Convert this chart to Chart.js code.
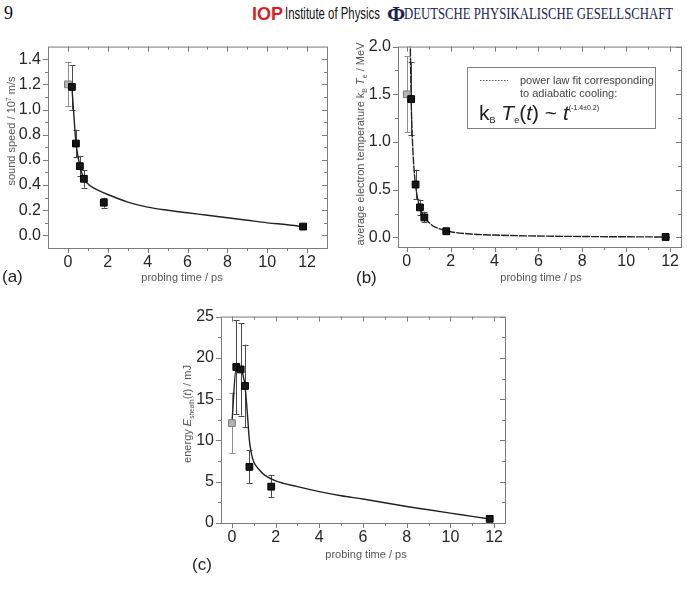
<!DOCTYPE html>
<html>
<head>
<meta charset="utf-8">
<script src="https://cdn.jsdelivr.net/npm/chart.js@4.4.1/dist/chart.umd.min.js"></script>
<style>
  html, body { margin: 0; padding: 0; background: #fff; }
  body { width: 687px; height: 589px; position: relative; overflow: hidden; font-family: "Liberation Sans", Arial, sans-serif; }
  canvas.panel { position: absolute; }
  .lbl { position: absolute; font-size: 17px; line-height: 20px; color: #222; }
  .hdr { position: absolute; white-space: nowrap; line-height: 1; transform-origin: 0 50%; }
</style>
</head>
<body>
<div class="hdr" style="left:4px;top:3px;font:18px 'Liberation Serif',serif;color:#111;">9</div>
<div class="hdr" data-w="31" style="left:252px;top:3px;font:bold 19px 'Liberation Sans',Arial;color:#d71f26;">IOP</div>
<div class="hdr" data-w="95" style="left:285px;top:4px;font:17px 'Liberation Sans',Arial;color:#111;">Institute of Physics</div>
<div class="hdr" style="left:387px;top:1px;font:bold 22px 'Liberation Serif',serif;color:#1b2452;">&Phi;</div>
<div class="hdr" data-w="269" style="left:404px;top:5px;font:16px 'Liberation Serif',serif;color:#1b2452;">DEUTSCHE PHYSIKALISCHE GESELLSCHAFT</div>

<canvas id="chartA" class="panel" width="340" height="270" style="left:0px;top:30px;width:340px;height:270px;"></canvas>
<canvas id="chartB" class="panel" width="347" height="270" style="left:340px;top:30px;width:347px;height:270px;"></canvas>
<canvas id="chartC" class="panel" width="370" height="289" style="left:160px;top:300px;width:370px;height:289px;"></canvas>

<div class="lbl" style="left:2px;top:267px;">(a)</div>
<div class="lbl" style="left:356px;top:268px;">(b)</div>
<div class="lbl" style="left:192px;top:555px;">(c)</div>

<script>
// ---------- data: (a) sound speed ----------
const timeA = [0.2, 0.4, 0.6, 0.8, 1.8, 11.8];
const speedA = [1.18, 0.73, 0.55, 0.45, 0.26, 0.07];
const speedLoA = [1.00, 0.62, 0.47, 0.38, 0.22, 0.06];
const speedHiA = [1.35, 0.84, 0.63, 0.52, 0.30, 0.08];
const refTimeA = [0];
const refSpeedA = [1.20];
const refLoA = [1.03];
const refHiA = [1.38];
const fitTimeA = [0.2, 0.3, 0.4, 0.5, 0.6, 0.7, 0.8, 1.0, 1.2, 1.5, 2, 3, 4, 5, 6, 7, 8, 9, 10, 11, 11.8];
const fitSpeedA = [1.18, 0.95, 0.74, 0.63, 0.555, 0.495, 0.45, 0.41, 0.385, 0.36, 0.325, 0.265, 0.225, 0.2, 0.18, 0.16, 0.14, 0.12, 0.10, 0.085, 0.07];
const yTicksA = [0, 0.2, 0.4, 0.6, 0.8, 1.0, 1.2, 1.4];
const yMinorA = [0.1, 0.3, 0.5, 0.7, 0.9, 1.1, 1.3];

// ---------- data: (b) electron temperature ----------
const timeB = [0.2, 0.4, 0.6, 0.8, 1.8, 11.8];
const tempB = [1.45, 0.555, 0.315, 0.21, 0.065, 0.005];
const tempLoB = [1.07, 0.405, 0.235, 0.16, 0.055, 0.0];
const tempHiB = [1.84, 0.71, 0.395, 0.27, 0.075, 0.01];
const refTimeB = [0];
const refTempB = [1.50];
const refLoB = [1.10];
const refHiB = [1.90];
const fitTimeB = [0.15, 0.2, 0.25, 0.3, 0.35, 0.4, 0.5, 0.6, 0.7, 0.8, 1.0, 1.2, 1.5, 2, 3, 4, 6, 8, 10, 11.8];
const fitTempB = [2.17, 1.45, 1.06, 0.82, 0.66, 0.55, 0.40, 0.31, 0.25, 0.21, 0.16, 0.12, 0.09, 0.06, 0.035, 0.025, 0.015, 0.01, 0.007, 0.005];
const yTicksB = [0, 0.5, 1.0, 1.5, 2.0];
const yMinorB = [0.25, 0.75, 1.25, 1.75];

// ---------- data: (c) sheath energy ----------
const timeC = [0.2, 0.4, 0.6, 0.8, 1.8, 11.8];
const energyC = [18.9, 18.6, 16.6, 6.8, 4.4, 0.5];
const energyLoC = [13.2, 13.0, 11.6, 4.8, 3.1, null];
const energyHiC = [24.6, 24.2, 21.6, 8.8, 5.8, null];
const refTimeC = [0];
const refEnergyC = [12.1];
const refLoC = [8.5];
const refHiC = [15.8];
const fitTimeC = [0, 0.2, 0.3, 0.4, 0.5, 0.6, 0.7, 0.8, 0.9, 1.0, 1.2, 1.5, 2, 3, 4, 5, 6, 7, 8, 9, 10, 11, 11.8];
const fitEnergyC = [12.1, 18.9, 18.7, 18.6, 18.0, 16.6, 13.5, 10.0, 8.3, 7.4, 6.6, 5.8, 5.1, 4.4, 3.8, 3.3, 2.9, 2.45, 2.0, 1.6, 1.2, 0.8, 0.48];
const yTicksC = [0, 5, 10, 15, 20, 25];
const yMinorC = [2.5, 7.5, 12.5, 17.5, 22.5];

// shared time axis ticks
const xTicks = [0, 2, 4, 6, 8, 10, 12];
const xMinor = [1, 3, 5, 7, 9, 11];

const FONT = '"Liberation Sans", Arial, Helvetica, sans-serif';
const FRAME = '#7c7c7c';
const TICK_TEXT = '#262626';
const TITLE_TEXT = '#555';
const Y_AXIS_W = 40;
const X_AXIS_H = 24;

// header words squeezed to the width they take in the reference
document.querySelectorAll('.hdr[data-w]').forEach(el => {
    const w = el.getBoundingClientRect().width;
    el.style.transform = 'scaleX(' + (parseFloat(el.dataset.w) / w) + ')';
});

function pts(xs, ys, lo, hi) {
    return xs.map((x, i) => ({ x: x, y: ys[i], lo: lo ? lo[i] : null, hi: hi ? hi[i] : null }));
}

function fontOf(p) {
    return (p.it ? 'italic ' : '') + (p.s || 11) + 'px ' + FONT;
}

// draws a run of text pieces (sub/superscripts, italics) centred or left aligned
function drawRich(ctx, parts, x, y, angle, align, color) {
    ctx.save();
    ctx.translate(x, y);
    ctx.rotate(angle);
    let total = 0;
    parts.forEach(p => { ctx.font = fontOf(p); total += ctx.measureText(p.t).width; });
    let cx = align === 'left' ? 0 : -total / 2;
    const base = (parts[0].s || 11) * 0.36;
    ctx.textAlign = 'left';
    ctx.textBaseline = 'alphabetic';
    ctx.fillStyle = color;
    parts.forEach(p => {
        ctx.font = fontOf(p);
        ctx.fillText(p.t, cx, base + (p.dy || 0));
        cx += ctx.measureText(p.t).width;
    });
    ctx.restore();
}

function decorPlugin(cfg) {
    return {
        id: 'decor',
        beforeDatasetsDraw(chart) {
            const ctx = chart.ctx, xs = chart.scales.x, ys = chart.scales.y;
            ctx.save();
            ctx.lineWidth = 1;
            chart.data.datasets.forEach(ds => {
                if (!ds.errColor) return;
                ctx.strokeStyle = ds.errColor;
                ds.data.forEach(d => {
                    if (d.lo == null || d.hi == null) return;
                    const px = Math.round(xs.getPixelForValue(d.x)) + 0.5;
                    const top = ys.getPixelForValue(d.hi), bot = ys.getPixelForValue(d.lo);
                    ctx.beginPath();
                    ctx.moveTo(px, top); ctx.lineTo(px, bot);
                    ctx.moveTo(px - 3, Math.round(top) + 0.5); ctx.lineTo(px + 3, Math.round(top) + 0.5);
                    ctx.moveTo(px - 3, Math.round(bot) + 0.5); ctx.lineTo(px + 3, Math.round(bot) + 0.5);
                    ctx.stroke();
                });
            });
            ctx.restore();
        },
        afterDraw(chart) {
            const ctx = chart.ctx, a = chart.chartArea;
            const xs = chart.scales.x, ys = chart.scales.y;
            ctx.save();
            ctx.strokeStyle = FRAME;
            ctx.lineWidth = 1;
            ctx.strokeRect(a.left + 0.5, a.top + 0.5, a.right - a.left, a.bottom - a.top);
            const line = (x1, y1, x2, y2) => { ctx.beginPath(); ctx.moveTo(x1, y1); ctx.lineTo(x2, y2); ctx.stroke(); };
            const xt = (v, len) => {
                const px = Math.round(xs.getPixelForValue(v)) + 0.5;
                line(px, a.bottom, px, a.bottom + len);
                line(px, a.top, px, a.top + len);
            };
            const yt = (v, len) => {
                const py = Math.round(ys.getPixelForValue(v)) + 0.5;
                line(a.left - len, py, a.left, py);
                line(a.right - len, py, a.right, py);
            };
            xTicks.forEach(v => xt(v, 5));
            xMinor.forEach(v => xt(v, 3));
            cfg.yTicks.forEach(v => yt(v, 5));
            cfg.yMinor.forEach(v => yt(v, 3));

            // titles are given in page coordinates
            ctx.translate(-cfg.box.l, -cfg.box.t);
            drawRich(ctx, [{ t: 'probing time / ps', s: 11 }], cfg.xTitle[0], cfg.xTitle[1], 0, 'center', TITLE_TEXT);
            drawRich(ctx, cfg.yParts, cfg.yTitle[0], cfg.yTitle[1], -Math.PI / 2, 'center', TITLE_TEXT);
            if (cfg.extra) cfg.extra(ctx);
            ctx.restore();
        }
    };
}

function makeChart(id, cfg, datasets) {
    const box = cfg.box, plot = cfg.plot;
    const padding = {
        left: plot.l - box.l - Y_AXIS_W,
        top: plot.t - box.t,
        right: box.l + box.w - plot.r,
        bottom: box.t + box.h - plot.b - X_AXIS_H
    };
    return new Chart(document.getElementById(id), {
        type: 'scatter',
        data: { datasets: datasets },
        options: {
            responsive: false,
            animation: false,
            layout: { padding: padding },
            plugins: { legend: { display: false }, tooltip: { enabled: false } },
            scales: {
                x: {
                    type: 'linear', min: cfg.xMin, max: cfg.xMax,
                    afterFit: s => { s.height = X_AXIS_H; },
                    afterBuildTicks: s => { s.ticks = xTicks.map(v => ({ value: v })); },
                    grid: { display: false, drawTicks: false },
                    border: { display: false },
                    ticks: { color: TICK_TEXT, padding: 5, font: { family: FONT, size: 16 }, callback: v => String(v) }
                },
                y: {
                    type: 'linear', min: cfg.yMin, max: cfg.yMax,
                    afterFit: s => { s.width = Y_AXIS_W; },
                    afterBuildTicks: s => { s.ticks = cfg.yTicks.map(v => ({ value: v })); },
                    grid: { display: false, drawTicks: false },
                    border: { display: false },
                    ticks: { color: TICK_TEXT, padding: 7, font: { family: FONT, size: 16 }, callback: v => v.toFixed(cfg.yDec) }
                }
            }
        },
        plugins: [decorPlugin(cfg)]
    });
}

function markerSets(xs, ys, lo, hi, rx, ry, rlo, rhi, fx, fy, dash) {
    return [
        { data: pts(xs, ys, lo, hi), pointStyle: 'rect', pointRadius: 4.8, backgroundColor: '#161616', borderColor: '#000', borderWidth: 1, errColor: '#4a4a4a', showLine: false },
        { data: pts(rx, ry, rlo, rhi), pointStyle: 'rect', pointRadius: 4.8, backgroundColor: '#b4b4b4', borderColor: '#7a7a7a', borderWidth: 1, errColor: '#8c8c8c', showLine: false },
        { data: pts(fx, fy), showLine: true, pointRadius: 0, borderColor: '#222', borderWidth: 1.4, borderDash: dash || [], cubicInterpolationMode: 'monotone', fill: false }
    ];
}

makeChart('chartA', {
    box: { l: 0, t: 30, w: 340, h: 270 },
    plot: { l: 48, t: 41, r: 327, b: 248 },
    xMin: -1, xMax: 13, yMin: -0.1, yMax: 1.5, yDec: 1,
    yTicks: yTicksA, yMinor: yMinorA,
    xTitle: [182, 277], yTitle: [11, 131],
    yParts: [{ t: 'sound speed / 10', s: 11 }, { t: '7', s: 7, dy: -4 }, { t: ' m/s', s: 11 }]
}, markerSets(timeA, speedA, speedLoA, speedHiA, refTimeA, refSpeedA, refLoA, refHiA, fitTimeA, fitSpeedA));

makeChart('chartB', {
    box: { l: 340, t: 30, w: 347, h: 270 },
    plot: { l: 398, t: 41, r: 681, b: 247 },
    xMin: -0.4, xMax: 12.5, yMin: -0.1, yMax: 2.0, yDec: 1,
    yTicks: yTicksB, yMinor: yMinorB,
    xTitle: [541, 277], yTitle: [360, 144],
    yParts: [{ t: 'average electron temperature k', s: 11 }, { t: 'B', s: 7, dy: 3 }, { t: ' ', s: 11 },
             { t: 'T', s: 11, it: true }, { t: 'e', s: 7, dy: 3 }, { t: ' / MeV', s: 11 }],
    extra: ctx => {
        ctx.fillStyle = '#fff';
        ctx.fillRect(467, 67, 188, 61);
        ctx.strokeStyle = '#808080';
        ctx.lineWidth = 1;
        ctx.strokeRect(467.5, 67.5, 188, 61);
        ctx.strokeStyle = '#555';
        ctx.setLineDash([1.5, 1.5]);
        ctx.beginPath(); ctx.moveTo(480, 80.5); ctx.lineTo(508, 80.5); ctx.stroke();
        ctx.setLineDash([]);
        drawRich(ctx, [{ t: 'power law fit corresponding', s: 11 }], 520, 80, 0, 'left', '#444');
        drawRich(ctx, [{ t: 'to adiabatic cooling:', s: 11 }], 520, 93, 0, 'left', '#444');
        drawRich(ctx, [{ t: 'k', s: 21 }, { t: 'B', s: 9, dy: 3 }, { t: ' ', s: 21 }, { t: 'T', s: 21, it: true },
                       { t: 'e', s: 9, dy: 3 }, { t: '(', s: 21 }, { t: 't', s: 21, it: true }, { t: ') ~ ', s: 21 },
                       { t: 't', s: 21, it: true }, { t: '(-1.4\u00b10.2)', s: 7, dy: -10 }], 479, 112, 0, 'left', '#222');
    }
}, markerSets(timeB, tempB, tempLoB, tempHiB, refTimeB, refTempB, refLoB, refHiB, fitTimeB, fitTempB, [8, 1]));

makeChart('chartC', {
    box: { l: 160, t: 300, w: 370, h: 289 },
    plot: { l: 221, t: 314, r: 505, b: 523 },
    xMin: -0.5, xMax: 12.5, yMin: 0, yMax: 25, yDec: 0,
    yTicks: yTicksC, yMinor: yMinorC,
    xTitle: [366, 554], yTitle: [187, 414],
    yParts: [{ t: 'energy ', s: 11 }, { t: 'E', s: 11, it: true }, { t: 'sheath', s: 6.5, dy: 3 }, { t: '(', s: 11 },
             { t: 't', s: 11, it: true }, { t: ') / mJ', s: 11 }]
}, markerSets(timeC, energyC, energyLoC, energyHiC, refTimeC, refEnergyC, refLoC, refHiC, fitTimeC, fitEnergyC));
</script>
</body>
</html>
